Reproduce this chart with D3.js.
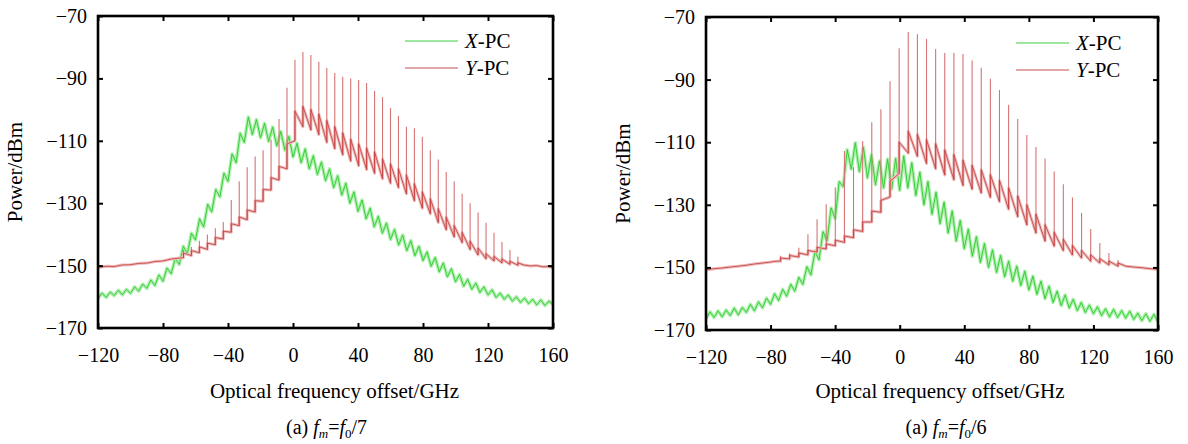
<!DOCTYPE html>
<html>
<head>
<meta charset="utf-8">
<script src="https://cdn.jsdelivr.net/npm/d3@7"></script>
<style>
  body { margin: 0; background: #fff; }
  text { font-family: "Liberation Serif", "Times New Roman", serif; fill: #000; }
</style>
</head>
<body>
<div id="chart"></div>
<script>
// spectra of the two polarisation components (dBm)

const xTicks = [-120, -80, -40, 0, 40, 80, 120, 160];
const yTicks = [-70, -90, -110, -130, -150, -170];

// X-PC traces sampled every 2.5 GHz from -120 to 160
const xpcFreq = d3.range(-120, 160.01, 2.5);

const xpc7 = [
  -160.5, -158.8, -160.2, -158.5, -159.6, -157.9, -159.4, -157.6, -158.9, -156.8,
  -158.2, -155.9, -157.3, -154.6, -156.4, -153.0, -155.0, -150.8, -152.6, -147.8,
  -149.6, -143.8, -146.2, -139.6, -141.8, -135.0, -137.6, -130.4, -132.8, -125.6,
  -128.0, -120.4, -123.0, -114.2, -117.0, -107.6, -110.5, -102.4, -108.0, -103.2,
  -109.0, -104.4, -110.2, -105.6, -111.6, -107.0, -113.0, -108.6, -115.2, -110.8,
  -117.0, -112.6, -119.0, -114.8, -120.8, -116.8, -122.8, -119.0, -125.0, -121.2,
  -127.4, -123.6, -130.0, -126.4, -132.6, -129.0, -135.0, -131.6, -137.6, -134.2,
  -139.6, -136.4, -141.6, -138.4, -143.4, -140.2, -145.2, -142.0, -146.8, -143.8,
  -148.4, -145.6, -150.2, -147.4, -152.0, -149.2, -153.6, -151.0, -155.2, -152.8,
  -156.6, -154.4, -157.6, -155.6, -158.6, -156.8, -159.4, -157.8, -160.2, -158.8,
  -160.8, -159.4, -161.4, -160.0, -161.8, -160.4, -162.2, -160.8, -162.6, -161.0,
  -162.8, -161.4, -162.4
];

const xpc6 = [
  -166.4, -164.2, -166.0, -163.9, -165.8, -163.6, -165.4, -163.0, -165.2, -162.8,
  -164.4, -161.8, -163.9, -161.0, -162.9, -159.8, -161.8, -158.4, -160.6, -157.0,
  -159.2, -155.4, -157.6, -153.2, -155.4, -149.8, -152.4, -144.8, -147.6, -138.6,
  -141.6, -131.0, -134.4, -122.6, -124.2, -112.4, -118.6, -110.2, -119.4, -111.6,
  -121.4, -114.0, -123.6, -116.0, -124.6, -115.4, -125.0, -115.2, -125.4, -114.4,
  -124.6, -116.6, -127.0, -119.6, -130.0, -122.6, -133.0, -126.0, -136.0, -129.2,
  -139.0, -132.0, -141.6, -135.0, -144.0, -137.8, -146.4, -140.2, -148.4, -142.4,
  -150.0, -144.4, -151.6, -146.2, -153.0, -148.0, -154.4, -149.6, -155.8, -151.2,
  -157.2, -152.8, -158.6, -154.4, -160.0, -156.0, -161.2, -157.6, -162.2, -158.8,
  -163.0, -160.2, -163.8, -161.2, -164.4, -162.0, -164.8, -162.6, -165.4, -163.2,
  -165.8, -163.4, -166.0, -163.8, -166.2, -164.0, -166.6, -164.6, -167.0, -164.8,
  -167.2, -165.0, -167.4
];

// Y-PC: smooth wings plus comb lines (freq, level before line, line peak, level after line)
const ypc7Head = [[-120, -150.6], [-115, -150.2], [-110, -150.3], [-105, -149.8], [-100, -149.7],
  [-95, -149.3], [-90, -149.2], [-85, -148.7], [-80, -148.5], [-75, -147.9], [-70, -147.6]];
const ypc7CombF = [-67.4, -62.5, -57.6, -52.7, -47.8, -42.9, -38.0, -33.1, -28.2, -23.3, -18.4,
  -13.5, -8.6, -3.7, 1.2, 6.1, 11.0, 15.9, 20.8, 25.7, 30.6, 35.5, 40.4, 45.3, 50.2, 55.1, 60.0,
  64.9, 69.8, 74.7, 79.6, 84.5, 89.4, 94.3, 99.2, 104.1, 109.0, 113.9, 118.8, 123.7, 128.6, 133.5, 138.4];
const ypc7Trough = [-147.5, -146.8, -145.9, -144.8, -143.3, -141.5, -139.3, -137.2, -135.3, -132.8, -129.4,
  -125.8, -122.6, -119.0, -110.0, -105.5, -106.5, -108.0, -110.5, -112.5, -114.5, -116.5, -118.0, -119.2, -120.4, -122.2, -123.6,
  -125.0, -127.0, -129.2, -131.6, -133.4, -136.2, -138.5, -140.8, -142.6, -144.8, -146.6, -147.8, -148.5, -149.1, -149.6, -149.9];
const ypc7Peak = [-145, -144, -142, -140, -138, -136, -129, -123, -118.5, -115, -113,
  -109.7, -103, -93, -84, -81.5, -82.5, -84.7, -86.7, -88.3, -89.5, -90, -90.5, -91.5, -94, -96, -99.5,
  -102, -105.5, -106, -108.7, -113, -116, -120, -123, -127, -130, -133, -136.3, -139.5, -142.4, -145, -147.2];
const ypc7Floor = [-146.0, -145.2, -144.0, -142.8, -141.0, -139.0, -136.6, -134.4, -132.2, -129.2, -125.6,
  -121.8, -118.2, -111.0, -100.5, -99.0, -100.0, -101.5, -103.5, -105.5, -107.5, -109.5, -111.0, -112.4, -113.6, -115.8, -117.4,
  -119.0, -121.0, -123.8, -126.4, -128.6, -131.8, -134.5, -137.2, -139.4, -142.2, -144.4, -146.2, -147.1, -147.9, -148.6, -149.1];
const ypc7Tail = [[142, -149.8], [146, -150.1], [150, -150.0], [154, -150.4], [157, -150.3], [160, -150.7]];

const ypc6Head = [[-120, -150.8], [-115, -150.4], [-110, -150.2], [-105, -149.9], [-100, -149.6],
  [-95, -149.3], [-90, -148.9], [-85, -148.6], [-80, -148.3], [-76, -148.0]];
const ypc6CombF = [-73.8, -68.15, -62.5, -56.85, -51.2, -45.55, -39.9, -34.25, -28.6, -22.95, -17.3,
  -11.65, -6.0, -0.35, 5.3, 10.95, 16.6, 22.25, 27.9, 33.55, 39.2, 44.85, 50.5, 56.15, 61.8, 67.45,
  73.1, 78.75, 84.4, 90.05, 95.7, 101.35, 107.0, 112.65, 118.3, 123.95, 129.6, 135.25];
const ypc6Trough = [-148.0, -147.3, -146.7, -146.0, -145.1, -144.1, -143.1, -142.0, -140.5, -138.5, -135.5,
  -132.4, -127.5, -120.0, -113.5, -114.5, -116.8, -118.5, -120.5, -122.0, -123.8, -125.0, -126.2, -127.6, -129.0, -131.4,
  -133.8, -136.4, -139.0, -141.6, -143.2, -144.6, -146.0, -147.0, -148.0, -148.6, -149.2, -149.6];
const ypc6Peak = [-146.3, -145.5, -143.7, -139.4, -134.6, -129.8, -124.5, -112.8, -118, -109.6, -103.6,
  -99.5, -90.5, -80, -74.8, -75.5, -77, -80.2, -81.5, -81.5, -81.8, -83.9, -86.2, -89.7, -93.3, -98,
  -102.6, -107.7, -111.5, -115.2, -119.4, -123.4, -127.7, -132.6, -137.7, -142.2, -145.4, -147.6];
const ypc6Floor = [-147.0, -146.2, -145.4, -144.6, -143.6, -142.5, -141.3, -140.0, -138.0, -135.5, -132.0,
  -128.6, -122.5, -110.0, -106.5, -107.5, -109.2, -110.5, -112.5, -114.0, -115.8, -117.4, -118.8, -120.4, -122.2, -124.6,
  -127.2, -130.0, -133.0, -136.4, -138.8, -141.0, -143.0, -144.6, -146.0, -147.2, -148.0, -148.6];
const ypc6Tail = [[140, -149.6], [145, -149.9], [150, -150.1], [155, -150.4], [160, -150.6]];

const W = 1188, H = 444;

const panels = [
  { left: 98, top: 16, right: 553, bottom: 328, xpc: xpc7,
    head: ypc7Head, combF: ypc7CombF, trough: ypc7Trough, peak: ypc7Peak, floor: ypc7Floor, tail: ypc7Tail,
    legX: 405, legY: [41, 68], titleDx: 9, capDx: 1, ylabX: 15, div: "7" },
  { left: 706, top: 17, right: 1158, bottom: 330, xpc: xpc6,
    head: ypc6Head, combF: ypc6CombF, trough: ypc6Trough, peak: ypc6Peak, floor: ypc6Floor, tail: ypc6Tail,
    legX: 1016, legY: [43, 70], titleDx: 8, capDx: 14, ylabX: 623, div: "6" }
];

const svg = d3.select('#chart')
  .append('svg')
  .attr('width', W)
  .attr('height', H);

panels.forEach((p, pi) => {
  let x = d3.scaleLinear().domain([-120, 160]).range([p.left, p.right]);
  let y = d3.scaleLinear().domain([-170, -70]).range([p.bottom, p.top]);

  let clipId = 'clip' + pi;
  svg.append('clipPath').attr('id', clipId)
    .append('rect')
    .attr('x', p.left).attr('y', p.top)
    .attr('width', p.right - p.left).attr('height', p.bottom - p.top);

  let g = svg.append('g').attr('clip-path', 'url(#' + clipId + ')');
  let line = d3.line().x(d => x(d[0])).y(d => y(d[1]));

  // X-PC
  let xpcPts = xpcFreq.map((f, i) => [f, p.xpc[i]]);
  g.append('path').datum(xpcPts)
    .attr('d', line).attr('fill', 'none')
    .attr('stroke', '#aef0ae').attr('stroke-width', 3.5).attr('stroke-linejoin', 'round');
  g.append('path').datum(xpcPts)
    .attr('d', line).attr('fill', 'none')
    .attr('stroke', '#2ec82e').attr('stroke-width', 0.9);

  // Y-PC base with the comb steps
  let ypcPts = p.head.slice();
  p.combF.forEach((f, i) => {
    ypcPts.push([f, p.trough[i]]);
    ypcPts.push([f, p.floor[i]]);
  });
  ypcPts = ypcPts.concat(p.tail);

  g.append('path').datum(ypcPts)
    .attr('d', line).attr('fill', 'none')
    .attr('stroke', '#ecbcbc').attr('stroke-width', 3).attr('stroke-linejoin', 'round');

  // comb lines
  g.selectAll('line.spike')
    .data(p.combF)
    .enter()
    .append('line')
    .attr('class', 'spike')
    .attr('x1', d => x(d)).attr('x2', d => x(d))
    .attr('y1', (d, i) => y(p.trough[i]))
    .attr('y2', (d, i) => y(p.peak[i]))
    .attr('stroke', '#d57474').attr('stroke-width', 1.1);

  g.append('path').datum(ypcPts)
    .attr('d', line).attr('fill', 'none')
    .attr('stroke', '#c63a3a').attr('stroke-width', 0.8);

  // axes, ticks pointing inward
  let axB = svg.append('g').attr('transform', 'translate(0,' + p.bottom + ')')
    .call(d3.axisBottom(x).tickValues(xTicks).tickSize(-5).tickPadding(19.5));
  let axL = svg.append('g').attr('transform', 'translate(' + p.left + ',0)')
    .call(d3.axisLeft(y).tickValues(yTicks).tickSize(-5).tickPadding(11));
  let axT = svg.append('g').attr('transform', 'translate(0,' + p.top + ')')
    .call(d3.axisTop(x).tickValues(xTicks).tickSize(-5).tickFormat(''));
  let axR = svg.append('g').attr('transform', 'translate(' + p.right + ',0)')
    .call(d3.axisRight(y).tickValues(yTicks).tickSize(-5).tickFormat(''));

  [axB, axL, axT, axR].forEach(a => {
    a.select('.domain').remove();
    a.selectAll('.tick line').attr('stroke', '#000').attr('stroke-width', 2);
    a.selectAll('text').attr('font-family', '"Liberation Serif", serif').attr('font-size', 20).attr('fill', '#000');
  });

  svg.append('rect')
    .attr('x', p.left).attr('y', p.top)
    .attr('width', p.right - p.left).attr('height', p.bottom - p.top)
    .attr('fill', 'none').attr('stroke', '#000').attr('stroke-width', 2.6);

  // titles
  let cx = (p.left + p.right) / 2;
  svg.append('text')
    .attr('x', cx + p.titleDx).attr('y', 398)
    .attr('text-anchor', 'middle').attr('font-size', 21)
    .text('Optical frequency offset/GHz');

  svg.append('text')
    .attr('transform', 'translate(' + (p.ylabX + 7) + ',' + ((p.top + p.bottom) / 2) + ') rotate(-90)')
    .attr('text-anchor', 'middle').attr('font-size', 21)
    .text('Power/dBm');

  let cap = svg.append('text')
    .attr('x', cx + p.capDx).attr('y', 434)
    .attr('text-anchor', 'middle').attr('font-size', 20);
  cap.append('tspan').text('(a) ');
  cap.append('tspan').attr('font-style', 'italic').text('f');
  cap.append('tspan').attr('font-style', 'italic').attr('font-size', 13).attr('dy', 4).text('m');
  cap.append('tspan').attr('dy', -4).text('=');
  cap.append('tspan').attr('font-style', 'italic').text('f');
  cap.append('tspan').attr('font-size', 13).attr('dy', 4).text('0');
  cap.append('tspan').attr('dy', -4).text('/' + p.div);

  // legend
  let legNames = ['X', 'Y'];
  let legCols = ['#7fdf7f', '#d88a8a'];
  p.legY.forEach((ly, i) => {
    svg.append('line')
      .attr('x1', p.legX).attr('x2', p.legX + 53)
      .attr('y1', ly).attr('y2', ly)
      .attr('stroke', legCols[i]).attr('stroke-width', 1.5);
    let t = svg.append('text')
      .attr('x', p.legX + 60).attr('y', ly + 7)
      .attr('font-size', 21);
    t.append('tspan').attr('font-style', 'italic').text(legNames[i]);
    t.append('tspan').text('-PC');
  });
});
</script>
</body>
</html>
